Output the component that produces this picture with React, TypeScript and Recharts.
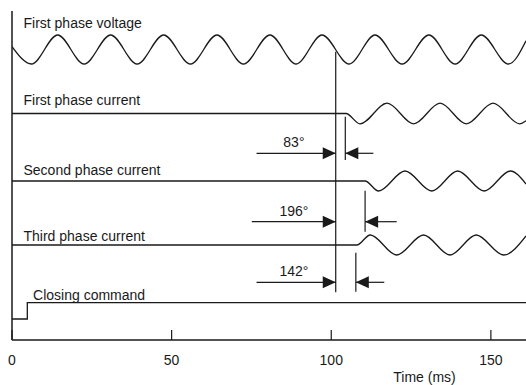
import { Line, LineChart, ReferenceDot, ReferenceLine, XAxis, YAxis } from 'recharts';

const timeTicks = [0, 50, 100, 150];

// time in ms, values normalised to the trace amplitude (read at peaks and troughs)
const voltageTime = [0, 6.1, 14.3, 22.6, 30.9, 39.2, 47.5, 55.9, 64.2, 72.5, 80.8, 89.0, 97.1, 105.6, 113.7, 122.2, 130.6, 138.8, 147.0, 155.5, 161];
const voltageValue = [0.2, -1, 1, -1, 1, -1, 1, -1, 1, -1, 1, -1, 1, -1, 1, -1, 1, -1, 1, -1, 0.6];

const current1Time = [0, 104.6, 109.0, 117.5, 125.8, 134.1, 142.3, 150.7, 159.0, 161];
const current1Value = [0, 0, -1, 1, -1, 1, -1, 1, -1, -0.7];

const current2Time = [0, 110.6, 114.8, 123.1, 131.5, 139.6, 147.9, 156.1, 161];
const current2Value = [0, 0, -1, 1, -1, 1, -1, 1, -0.3];

const current3Time = [0, 108.0, 112.2, 120.5, 128.9, 137.2, 145.4, 154.0, 161];
const current3Value = [0, 0, 1, -1, 1, -1, 1, -1, 0.9];

const closingTime = [0, 4.8, 161];
const closingValue = [0, 1, 1];

const traceNames = ['First phase voltage', 'First phase current', 'Second phase current', 'Third phase current', 'Closing command'];

// voltage zero crossing used as reference, and where each current starts
const referenceTime = 101.4;
const angleLabels = ['83°', '196°', '142°'];
const angleEndTime = [104.4, 110.6, 107.7];

const INK = '#1a1a1a';
const FONT = "'Liberation Sans', Arial, Helvetica, sans-serif";

// vertical lanes (y units = px above the x axis)
const lanes = [
  { center: 290.5, amp: 14.5 },
  { center: 226.5, amp: 10.3 },
  { center: 159, amp: 10 },
  { center: 95, amp: 10 },
  { center: 21, amp: 16.3 },
];
const labelPos = [
  { t: 3.6, y: 311.7 },
  { t: 3.6, y: 235 },
  { t: 3.6, y: 165 },
  { t: 3.6, y: 99.3 },
  { t: 6.6, y: 40 },
];
const arrows = [
  { y: 186.7, left: 76.6, right: 113.2, top: 223.3, bottom: 180, labelY: 192.7 },
  { y: 118.3, left: 75.1, right: 120.5, top: 149.3, bottom: 108.3, labelY: 124.3 },
  { y: 57.7, left: 76.6, right: 116.6, top: 87.3, bottom: 48.3, labelY: 64.3 },
];

const build = (times: number[], values: number[], lane: { center: number; amp: number }) =>
  times.map((t, i) => ({ t, v: lane.center + values[i] * lane.amp }));

const series = [
  build(voltageTime, voltageValue, lanes[0]),
  build(current1Time, current1Value, lanes[1]),
  build(current2Time, current2Value, lanes[2]),
  build(current3Time, current3Value, lanes[3]),
];
const closing = build(closingTime, closingValue, lanes[4]);

function TimeTick(props: any) {
  const { x, y, payload } = props;
  return (
    <g>
      <line x1={x} x2={x} y1={y - 10} y2={y} stroke={INK} strokeWidth={1.2} />
      <text x={x} y={y + 24.5} textAnchor="middle" fontSize={14} fill={INK} fontFamily={FONT}>
        {payload.value}
      </text>
    </g>
  );
}

const textShape = (label: string, anchor: 'start' | 'middle') => (p: any) => (
  <text x={p.cx} y={p.cy} textAnchor={anchor} fontSize={14} fill={INK} fontFamily={FONT}>
    {label}
  </text>
);

const arrowHead = (dir: 1 | -1) => (p: any) => (
  <polygon
    points={`${p.cx},${p.cy} ${p.cx - dir * 13},${p.cy - 6} ${p.cx - dir * 13},${p.cy + 6}`}
    fill={INK}
  />
);

export default function App() {
  return (
    <div style={{ position: 'absolute', left: 0, top: 0 }}>
      <LineChart width={526} height={385} margin={{ top: 11, right: 0, bottom: 0, left: 12 }} style={{ fontFamily: FONT }}>
        <XAxis
          dataKey="t"
          type="number"
          domain={[0, 161]}
          ticks={timeTicks}
          allowDataOverflow
          height={45}
          tickSize={0}
          tickMargin={0}
          tickLine={false}
          tick={<TimeTick />}
          axisLine={{ stroke: INK, strokeWidth: 1.5 }}
        />
        <YAxis type="number" domain={[0, 329]} allowDataOverflow hide width={0} />

        <ReferenceLine x={0} stroke={INK} strokeWidth={1.5} ifOverflow="visible" />

        {series.map((d, i) => (
          <Line key={i} data={d} dataKey="v" type="monotone" stroke={INK} strokeWidth={1.3} dot={false} isAnimationActive={false} />
        ))}
        <Line data={closing} dataKey="v" type="stepAfter" stroke={INK} strokeWidth={1.3} dot={false} isAnimationActive={false} />

        <ReferenceLine segment={[{ x: referenceTime, y: 288.3 }, { x: referenceTime, y: 47.7 }]} stroke={INK} strokeWidth={1.2} ifOverflow="visible" />
        {arrows.map((a, i) => (
          <g key={`a${i}`}>
            <ReferenceLine segment={[{ x: angleEndTime[i], y: a.top }, { x: angleEndTime[i], y: a.bottom }]} stroke={INK} strokeWidth={1.2} ifOverflow="visible" />
            <ReferenceLine segment={[{ x: a.left, y: a.y }, { x: referenceTime, y: a.y }]} stroke={INK} strokeWidth={1.2} ifOverflow="visible" />
            <ReferenceLine segment={[{ x: angleEndTime[i], y: a.y }, { x: a.right, y: a.y }]} stroke={INK} strokeWidth={1.2} ifOverflow="visible" />
            <ReferenceDot x={referenceTime} y={a.y} r={1} ifOverflow="visible" shape={arrowHead(1)} />
            <ReferenceDot x={angleEndTime[i]} y={a.y} r={1} ifOverflow="visible" shape={arrowHead(-1)} />
            <ReferenceDot x={88.3} y={a.labelY} r={1} ifOverflow="visible" shape={textShape(angleLabels[i], 'middle')} />
          </g>
        ))}

        {traceNames.map((name, i) => (
          <ReferenceDot key={name} x={labelPos[i].t} y={labelPos[i].y} r={1} ifOverflow="visible" shape={textShape(name, 'start')} />
        ))}
        <ReferenceDot x={129.2} y={-41.5} r={1} ifOverflow="visible" shape={textShape('Time (ms)', 'middle')} />
      </LineChart>
    </div>
  );
}
